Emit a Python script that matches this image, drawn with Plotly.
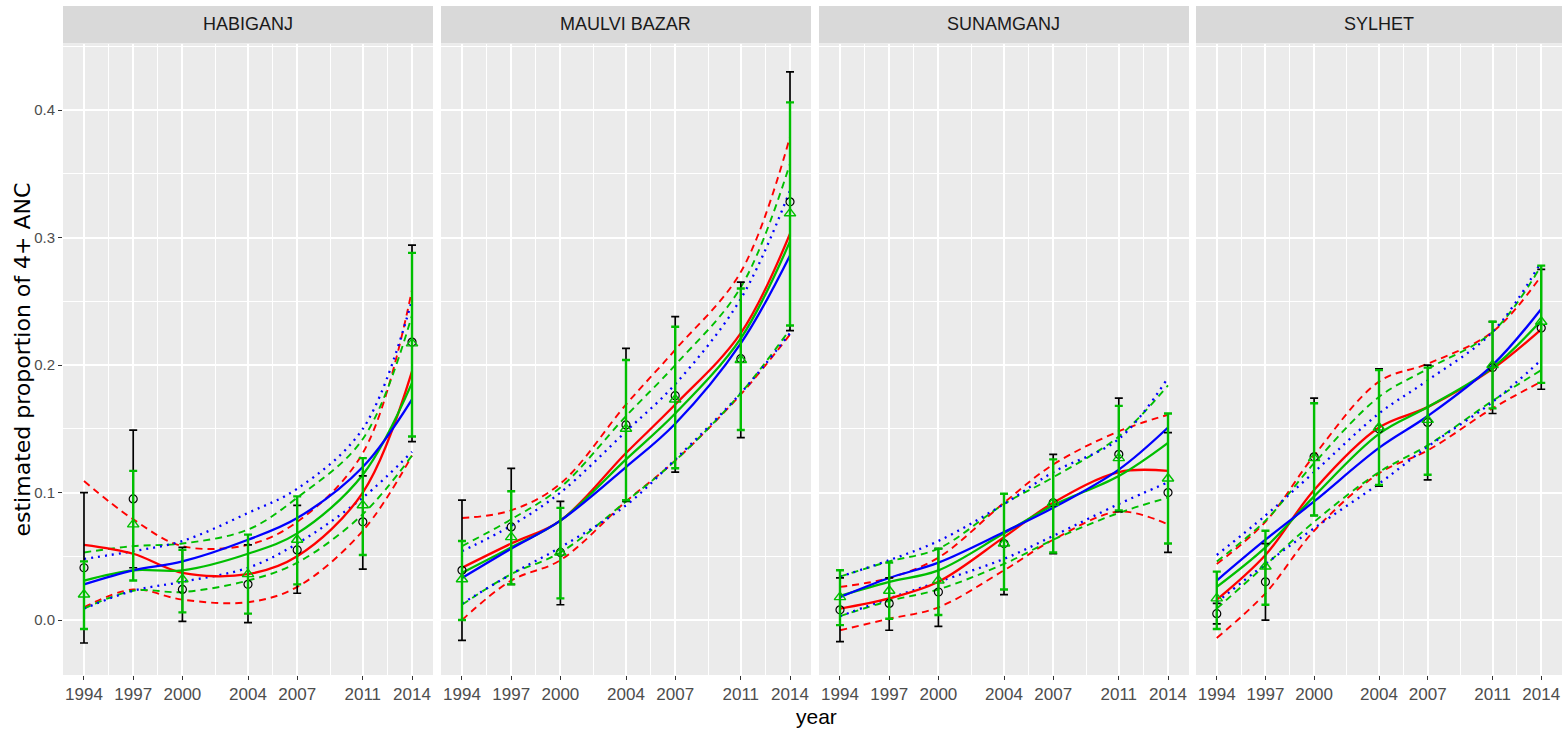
import plotly.graph_objects as go

# ---------------- data ----------------
districts = ["HABIGANJ", "MAULVI BAZAR", "SUNAMGANJ", "SYLHET"]
years = [1994, 1997, 2000, 2004, 2007, 2011, 2014]
year_ticks = [1994, 1997, 2000, 2004, 2007, 2011, 2014]
y_ticks = [0.0, 0.1, 0.2, 0.3, 0.4]
y_tick_text = ["0.0", "0.1", "0.2", "0.3", "0.4"]

# direct survey estimates (black circles) with intervals
direct_est = [
    [0.041, 0.095, 0.024, 0.028, 0.055, 0.077, 0.218],
    [0.039, 0.073, 0.053, 0.153, 0.176, 0.205, 0.328],
    [0.008, 0.013, 0.022, 0.060, 0.092, 0.130, 0.100],
    [0.005, 0.030, 0.128, 0.150, 0.155, 0.198, 0.229],
]
direct_lo = [
    [-0.018, 0.041, -0.001, -0.002, 0.021, 0.040, 0.140],
    [-0.016, 0.028, 0.012, 0.093, 0.116, 0.143, 0.227],
    [-0.017, -0.008, -0.005, 0.020, 0.052, 0.085, 0.053],
    [-0.003, 0.000, 0.082, 0.105, 0.110, 0.162, 0.181],
]
direct_hi = [
    [0.100, 0.149, 0.057, 0.059, 0.090, 0.113, 0.294],
    [0.094, 0.119, 0.093, 0.213, 0.238, 0.265, 0.430],
    [0.033, 0.033, 0.056, 0.099, 0.130, 0.174, 0.147],
    [0.013, 0.060, 0.174, 0.197, 0.200, 0.234, 0.275],
]

# model-based estimates (green triangles) with intervals
model_est = [
    [0.020, 0.075, 0.032, 0.036, 0.063, 0.090, 0.217],
    [0.032, 0.065, 0.053, 0.150, 0.173, 0.204, 0.319],
    [0.018, 0.023, 0.031, 0.060, 0.092, 0.127, 0.111],
    [0.017, 0.042, 0.127, 0.151, 0.157, 0.200, 0.234],
]
model_lo = [
    [-0.007, 0.031, 0.006, 0.005, 0.028, 0.051, 0.144],
    [0.000, 0.028, 0.017, 0.094, 0.119, 0.149, 0.231],
    [-0.004, 0.001, 0.004, 0.024, 0.053, 0.086, 0.060],
    [-0.007, 0.012, 0.082, 0.106, 0.114, 0.166, 0.186],
]
model_hi = [
    [0.046, 0.117, 0.055, 0.067, 0.097, 0.127, 0.288],
    [0.062, 0.101, 0.088, 0.204, 0.230, 0.260, 0.406],
    [0.039, 0.045, 0.056, 0.099, 0.126, 0.168, 0.162],
    [0.038, 0.070, 0.170, 0.196, 0.198, 0.234, 0.278],
]

# smoothed trends: red
red_mid = [
    [0.059, 0.052, 0.037, 0.036, 0.050, 0.100, 0.195],
    [0.041, 0.060, 0.078, 0.131, 0.169, 0.225, 0.303],
    [0.009, 0.017, 0.030, 0.065, 0.092, 0.116, 0.117],
    [0.016, 0.051, 0.102, 0.151, 0.167, 0.197, 0.228],
]
red_lo = [
    [0.010, 0.024, 0.016, 0.014, 0.026, 0.070, 0.129],
    [0.000, 0.031, 0.047, 0.093, 0.125, 0.177, 0.224],
    [-0.008, 0.001, 0.010, 0.039, 0.063, 0.085, 0.075],
    [-0.014, 0.021, 0.070, 0.115, 0.133, 0.166, 0.187],
]
red_hi = [
    [0.109, 0.079, 0.058, 0.059, 0.077, 0.131, 0.259],
    [0.080, 0.086, 0.107, 0.169, 0.212, 0.273, 0.379],
    [0.026, 0.033, 0.049, 0.092, 0.122, 0.148, 0.161],
    [0.044, 0.077, 0.129, 0.187, 0.201, 0.226, 0.270],
]
# green
green_mid = [
    [0.031, 0.039, 0.039, 0.052, 0.068, 0.114, 0.186],
    [0.037, 0.057, 0.078, 0.126, 0.162, 0.221, 0.297],
    [0.019, 0.030, 0.039, 0.068, 0.090, 0.113, 0.139],
    [0.026, 0.057, 0.097, 0.146, 0.167, 0.198, 0.235],
]
green_lo = [
    [0.009, 0.023, 0.022, 0.031, 0.045, 0.083, 0.129],
    [0.012, 0.036, 0.053, 0.093, 0.125, 0.178, 0.228],
    [0.003, 0.015, 0.024, 0.044, 0.063, 0.084, 0.096],
    [0.009, 0.043, 0.077, 0.116, 0.137, 0.172, 0.196],
]
green_hi = [
    [0.053, 0.058, 0.060, 0.071, 0.096, 0.142, 0.239],
    [0.058, 0.079, 0.104, 0.160, 0.200, 0.261, 0.358],
    [0.034, 0.046, 0.056, 0.091, 0.112, 0.144, 0.184],
    [0.046, 0.078, 0.123, 0.175, 0.197, 0.226, 0.278],
]
# blue
blue_mid = [
    [0.028, 0.039, 0.046, 0.063, 0.080, 0.120, 0.173],
    [0.033, 0.056, 0.078, 0.120, 0.154, 0.217, 0.286],
    [0.018, 0.033, 0.045, 0.069, 0.088, 0.118, 0.151],
    [0.031, 0.063, 0.093, 0.135, 0.160, 0.200, 0.244],
]
blue_lo = [
    [0.009, 0.023, 0.030, 0.041, 0.060, 0.096, 0.132],
    [0.013, 0.036, 0.057, 0.090, 0.126, 0.178, 0.225],
    [0.003, 0.017, 0.030, 0.048, 0.066, 0.091, 0.108],
    [0.014, 0.044, 0.072, 0.107, 0.136, 0.171, 0.204],
]
blue_hi = [
    [0.048, 0.054, 0.062, 0.084, 0.103, 0.150, 0.251],
    [0.054, 0.074, 0.100, 0.148, 0.185, 0.252, 0.337],
    [0.034, 0.047, 0.062, 0.091, 0.116, 0.142, 0.190],
    [0.051, 0.082, 0.116, 0.162, 0.188, 0.226, 0.281],
]

# ---------------- styling ----------------
W, H = 1563, 731
ML, MR, MT, MB = 63, 1, 44, 56
plot_w = W - ML - MR
plot_h = H - MT - MB
panel_px = [(63, 433), (441, 811), (819, 1189), (1196, 1562)]

RED = "#FF0000"
GREEN = "#00BF00"
BLUE = "#0000FF"
NARROW = "Liberation Sans Narrow, Arial Narrow, Liberation Sans, Arial"
SANS = "Liberation Sans, Arial, Helvetica"

fig = go.Figure()
layout = {}
annotations = []
shapes = []

x_range = [1992.72, 2015.28]
y_range = [-0.0431, 0.4518]

for i, name in enumerate(districts):
    n = "" if i == 0 else str(i + 1)
    xa, ya = "x" + n, "y" + n
    x0 = (panel_px[i][0] - ML) / plot_w
    x1 = (panel_px[i][1] - ML) / plot_w

    def line(yvals, color, dash, width=2.3):
        fig.add_trace(go.Scatter(
            x=years, y=yvals, mode="lines", xaxis=xa, yaxis=ya,
            line=dict(color=color, dash=dash, width=width, shape="spline", smoothing=1.0),
            showlegend=False, hoverinfo="skip"))

    # interval bands
    line(red_lo[i], RED, "7px,5px", 1.9)
    line(red_hi[i], RED, "7px,5px", 1.9)
    line(green_lo[i], GREEN, "7px,5px", 1.9)
    line(green_hi[i], GREEN, "7px,5px", 1.9)
    line(blue_lo[i], BLUE, "2px,5px", 2.3)
    line(blue_hi[i], BLUE, "2px,5px", 2.3)
    # central trends
    line(red_mid[i], RED, "solid")
    line(green_mid[i], GREEN, "solid")
    line(blue_mid[i], BLUE, "solid")

    # direct estimates
    fig.add_trace(go.Scatter(
        x=years, y=direct_est[i], mode="markers", xaxis=xa, yaxis=ya,
        marker=dict(symbol="circle-open", size=8, color="black", line=dict(width=1.2)),
        error_y=dict(type="data", symmetric=False,
                     array=[h - v for h, v in zip(direct_hi[i], direct_est[i])],
                     arrayminus=[v - l for v, l in zip(direct_est[i], direct_lo[i])],
                     color="black", thickness=1.7, width=4),
        showlegend=False, hoverinfo="skip"))
    # model estimates
    fig.add_trace(go.Scatter(
        x=years, y=model_est[i], mode="markers", xaxis=xa, yaxis=ya,
        marker=dict(symbol="triangle-up-open", size=10, color=GREEN, line=dict(width=1.4)),
        error_y=dict(type="data", symmetric=False,
                     array=[h - v for h, v in zip(model_hi[i], model_est[i])],
                     arrayminus=[v - l for v, l in zip(model_est[i], model_lo[i])],
                     color=GREEN, thickness=2.4, width=4),
        showlegend=False, hoverinfo="skip"))

    layout["xaxis" + n] = dict(
        domain=[x0, x1], anchor=ya, range=x_range, tickmode="array",
        tickvals=year_ticks, ticktext=[str(t) for t in year_ticks],
        showgrid=True, gridcolor="white", gridwidth=1.8, zeroline=False,
        ticks="outside", ticklen=4, tickcolor="#333333", tickwidth=1,
        tickfont=dict(family=NARROW, size=17, color="#4D4D4D"),
        minor=dict(tickvals=[1995.5, 1998.5, 2002, 2005.5, 2009, 2012.5],
                   showgrid=True, gridcolor="white", gridwidth=0.9),
        showline=False, fixedrange=True)
    layout["yaxis" + n] = dict(
        domain=[0, 1], anchor=xa, range=y_range, tickmode="array",
        tickvals=y_ticks, ticktext=y_tick_text, showticklabels=(i == 0),
        showgrid=True, gridcolor="white", gridwidth=1.8, zeroline=False,
        ticks="outside" if i == 0 else "", ticklen=4, tickcolor="#333333", tickwidth=1,
        tickfont=dict(family=SANS, size=15, color="#4D4D4D"),
        minor=dict(tickvals=[-0.05, 0.05, 0.15, 0.25, 0.35, 0.45],
                   showgrid=True, gridcolor="white", gridwidth=0.9),
        showline=False, fixedrange=True)

    # panel background
    shapes.append(dict(type="rect", xref="paper", yref="paper",
                       x0=x0, x1=x1, y0=0, y1=1, fillcolor="#EBEBEB",
                       line=dict(width=0), layer="below"))
    # strip
    shapes.append(dict(type="rect", xref="paper", yref="paper",
                       x0=x0, x1=x1, y0=1 + 0.5 / plot_h, y1=1 + 38 / plot_h,
                       fillcolor="#D9D9D9", line=dict(width=0), layer="below"))
    annotations.append(dict(text=name, xref="paper", yref="paper",
                            x=(x0 + x1) / 2, y=1 + 19.5 / plot_h,
                            xanchor="center", yanchor="middle", showarrow=False,
                            font=dict(family=NARROW, size=18, color="#1A1A1A")))

annotations.append(dict(text="estimated proportion of 4+ ANC", xref="paper", yref="paper",
                        x=(22 - ML) / plot_w, y=0.5, textangle=-90,
                        xanchor="center", yanchor="middle", showarrow=False,
                        font=dict(family="DejaVu Sans, Liberation Sans", size=22, color="black")))
annotations.append(dict(text="year", xref="paper", yref="paper",
                        x=(816 - ML) / plot_w, y=-(717 - (H - MB)) / plot_h,
                        xanchor="center", yanchor="middle", showarrow=False,
                        font=dict(family=NARROW, size=21, color="black")))

fig.update_layout(
    width=W, height=H,
    margin=dict(l=ML, r=MR, t=MT, b=MB, pad=0),
    paper_bgcolor="white", plot_bgcolor="rgba(0,0,0,0)",
    shapes=shapes, annotations=annotations, showlegend=False,
    **layout)

fig.write_html("out.html")
